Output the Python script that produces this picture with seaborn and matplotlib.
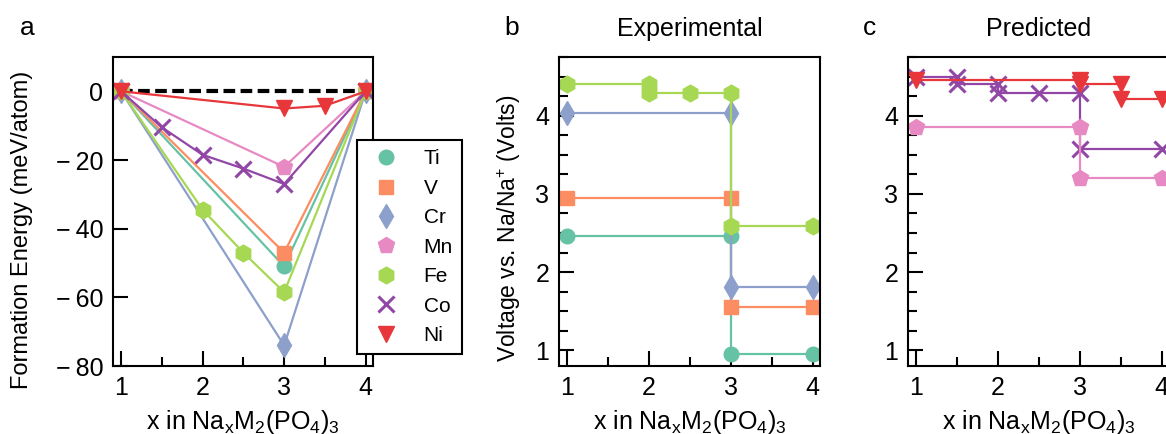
import matplotlib
matplotlib.use("Agg")
import pandas as pd
import matplotlib.pyplot as plt
import seaborn as sns
from matplotlib.ticker import MultipleLocator, FuncFormatter

# element order, colours and markers (legend order)
elements = ["Ti", "V", "Cr", "Mn", "Fe", "Co", "Ni"]
element_colors = ["#66c2a5", "#fc8d62", "#8da0cb", "#e78ac3", "#a6d854", "#9247a6", "#e8373a"]
element_markers = ["o", "s", "d", "p", "h", "x", "v"]
marker_sizes = [10.5, 10, 12, 12, 12, 11, 12]

# panel a: formation energy (meV/atom) vs x in NaxM2(PO4)3
ti_x = [1, 3, 4]
ti_energy = [0, -51, 0]
v_x = [1, 3, 4]
v_energy = [0, -47, 0]
cr_x = [1, 3, 4]
cr_energy = [0, -74, 0]
mn_x = [1, 3, 4]
mn_energy = [0, -22, 0]
fe_x = [1, 2, 2.5, 3, 4]
fe_energy = [0, -34.5, -47, -58.5, 0]
co_x = [1, 1.5, 2, 2.5, 3, 4]
co_energy = [0, -10.5, -18.5, -22.5, -27, 0]
ni_x = [1, 3, 3.5, 4]
ni_energy = [0, -5, -4.2, 0]

# panel b: experimental voltage profiles (step vertices)
exp_ti_x = [1, 3, 3, 4]
exp_ti_v = [2.46, 2.46, 0.95, 0.95]
exp_v_x = [1, 3, 3, 4]
exp_v_v = [2.95, 2.95, 1.55, 1.55]
exp_cr_x = [1, 3, 3, 4]
exp_cr_v = [4.04, 4.04, 1.81, 1.81]
exp_fe_x = [1, 2, 2, 2.5, 3, 3, 4]
exp_fe_v = [4.41, 4.41, 4.29, 4.29, 4.29, 2.59, 2.59]

# panel c: predicted voltage profiles (step vertices)
pred_mn_x = [1, 3, 3, 4]
pred_mn_v = [3.86, 3.86, 3.20, 3.20]
pred_co_x = [1, 1.5, 1.5, 2, 2, 2.5, 3, 3, 4]
pred_co_v = [4.49, 4.49, 4.40, 4.40, 4.29, 4.29, 4.29, 3.57, 3.57]
pred_ni_x = [1, 3, 3, 3.5, 3.5, 4]
pred_ni_v = [4.46, 4.46, 4.40, 4.40, 4.21, 4.21]

xlabel = r"x in Na$_{x}$M$_{2}$(PO$_{4}$)$_{3}$"


def draw_series(ax, xs, ys, element, label=None):
    i = elements.index(element)
    df = pd.DataFrame({"x": xs, "y": ys})
    mew = 2.2 if element_markers[i] == "x" else 1.0
    sns.lineplot(
        data=df, x="x", y="y", ax=ax,
        estimator=None, sort=False,
        color=element_colors[i],
        marker=element_markers[i],
        markersize=marker_sizes[i],
        markeredgecolor=element_colors[i],
        markeredgewidth=mew,
        linewidth=1.6,
        label=label,
        legend=False,
    )


def minus_fmt(v, pos):
    # wide minus with a thin gap, as in the original figure
    if v < 0:
        return "\u2212\u2009" + f"{abs(v):g}"
    return f"{v:g}"


def style_axis(ax):
    ax.set_xlim(0.9, 4.09)
    ax.xaxis.set_major_locator(MultipleLocator(1))
    ax.xaxis.set_minor_locator(MultipleLocator(0.5))
    ax.tick_params(which="both", direction="in", width=1.5, color="black",
                   bottom=True, left=True, top=False, right=False)
    ax.tick_params(which="major", length=10.5, pad=7, labelsize=18, labelcolor="black")
    ax.tick_params(which="minor", length=6.5)
    for spine in ax.spines.values():
        spine.set_linewidth(1.5)
        spine.set_color("black")
    ax.set_xlabel(xlabel, fontsize=18, labelpad=6, color="black")
    ax.grid(False)


sns.set_theme(style="white")
plt.rcParams["font.family"] = ["Liberation Sans", "DejaVu Sans"]
plt.rcParams["mathtext.default"] = "regular"
plt.rcParams["mathtext.fontset"] = "custom"
plt.rcParams["mathtext.rm"] = "Liberation Sans"
plt.rcParams["text.color"] = "black"
plt.rcParams["axes.labelcolor"] = "black"

fig = plt.figure(figsize=(11.66, 4.34), dpi=100)
W, H = 1166, 434
ax_a = fig.add_axes([113 / W, 68 / H, 260 / W, 309 / H])
ax_b = fig.add_axes([559 / W, 68 / H, 261 / W, 309 / H])
ax_c = fig.add_axes([908 / W, 68 / H, 261 / W, 309 / H])

# ---- panel a ----
sns.lineplot(x=[1, 4], y=[0, 0], ax=ax_a, color="black", linewidth=3,
             linestyle=(0, (2.8, 1.3)), legend=False)
energy_x = [ti_x, v_x, cr_x, mn_x, fe_x, co_x, ni_x]
energy_y = [ti_energy, v_energy, cr_energy, mn_energy, fe_energy, co_energy, ni_energy]
for el, xs, ys in zip(elements, energy_x, energy_y):
    draw_series(ax_a, xs, ys, el, label=el)

style_axis(ax_a)
ax_a.set_ylim(-80, 10)
ax_a.yaxis.set_major_locator(MultipleLocator(20))
ax_a.yaxis.set_major_formatter(FuncFormatter(minus_fmt))
ax_a.set_ylabel("Formation Energy (meV/atom)", fontsize=17)
ax_a.yaxis.set_label_coords(-0.308, 0.44)

handles, labels = ax_a.get_legend_handles_labels()
keep = [k for k, lab in enumerate(labels) if lab in elements]
leg = ax_a.legend(
    [handles[k] for k in keep], [labels[k] for k in keep],
    loc="upper left", bbox_to_anchor=(0.938, 0.731),
    fontsize=15, frameon=True, fancybox=False, framealpha=1,
    edgecolor="black", borderpad=0.45, labelspacing=0.5,
    handlelength=1.9, handletextpad=0.85, borderaxespad=0,
)
leg.get_frame().set_linewidth(1.5)
for h in leg.legend_handles:
    h.set_linestyle("none")

# ---- panel b ----
draw_series(ax_b, exp_ti_x, exp_ti_v, "Ti")
draw_series(ax_b, exp_v_x, exp_v_v, "V")
draw_series(ax_b, exp_cr_x, exp_cr_v, "Cr")
draw_series(ax_b, exp_fe_x, exp_fe_v, "Fe")
style_axis(ax_b)
ax_b.set_ylim(0.8, 4.75)
ax_b.yaxis.set_major_locator(MultipleLocator(1))
ax_b.yaxis.set_minor_locator(MultipleLocator(0.25))
ax_b.set_ylabel(r"Voltage vs. Na/Na$^{+}$ (Volts)", fontsize=16.5)
ax_b.yaxis.set_label_coords(-0.138, 0.447)
ax_b.set_title("Experimental", fontsize=18, pad=15)

# ---- panel c ----
draw_series(ax_c, pred_co_x, pred_co_v, "Co")
draw_series(ax_c, pred_mn_x, pred_mn_v, "Mn")
draw_series(ax_c, pred_ni_x, pred_ni_v, "Ni")
style_axis(ax_c)
ax_c.set_ylim(0.8, 4.75)
ax_c.yaxis.set_major_locator(MultipleLocator(1))
ax_c.yaxis.set_minor_locator(MultipleLocator(0.25))
ax_c.set_ylabel("")
ax_c.set_title("Predicted", fontsize=18, pad=15)

# panel letters
for letter, px in [("a", 27), ("b", 512), ("c", 870)]:
    fig.text(px / W, 1 - 35 / H, letter, ha="center", va="baseline", fontsize=19)

fig.savefig("out.png", dpi=100)
plt.close(fig)
